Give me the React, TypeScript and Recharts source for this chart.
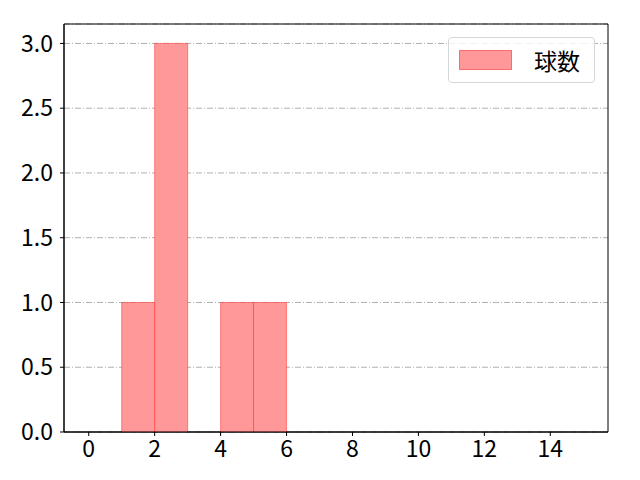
import React from "react";
import {
  ComposedChart,
  Bar,
  XAxis,
  YAxis,
  CartesianGrid,
  ReferenceArea,
} from "recharts";

const binCenters = [0.5, 1.5, 2.5, 3.5, 4.5, 5.5, 6.5, 7.5, 8.5, 9.5, 10.5, 11.5, 12.5, 13.5, 14.5];
const counts = [0, 1, 3, 0, 1, 1, 0, 0, 0, 0, 0, 0, 0, 0, 0];
const xTicks = [0, 2, 4, 6, 8, 10, 12, 14];
const yTicks = [0, 0.5, 1.0, 1.5, 2.0, 2.5, 3.0];
const seriesName = "球数";

const data = binCenters.map((x, i) => ({ x, count: counts[i] }));

const FONT = "'Noto Sans CJK JP', 'Noto Sans', sans-serif";

const LegendBox = () => (
  <div
    style={{
      position: "absolute",
      left: 448,
      top: 37,
      width: 147,
      height: 46,
      border: "1px solid #d6d6d6",
      borderRadius: 4,
      background: "rgba(255,255,255,0.8)",
      boxSizing: "border-box",
      display: "flex",
      alignItems: "center",
      fontFamily: FONT,
      fontSize: 23,
      color: "#000",
    }}
  >
    <div
      style={{
        marginLeft: 10,
        width: 53,
        height: 20,
        background: "#ff9999",
        border: "1px solid rgba(255,60,60,0.5)",
        boxSizing: "border-box",
      }}
    />
    <span style={{ marginLeft: 22, lineHeight: 1 }}>{seriesName}</span>
  </div>
);

export default function App() {
  return (
    <div style={{ position: "absolute", left: 0, top: 0, width: 640, height: 480, background: "#fff" }}>
      <ComposedChart
        width={640}
        height={480}
        data={data}
        margin={{ top: 24, right: 32, bottom: 0, left: 0 }}
        barCategoryGap={0}
        barGap={0}
      >
        <CartesianGrid
          horizontal={true}
          vertical={false}
          stroke="#b0b0b0"
          strokeDasharray="6 2 1 2"
          strokeWidth={1}
        />
        <XAxis
          dataKey="x"
          type="number"
          domain={[-0.75, 15.75]}
          ticks={xTicks}
          interval={0}
          allowDataOverflow
          tickLine={{ stroke: "#000" }}
          axisLine={{ stroke: "#000" }}
          tickSize={4}
          height={48}
          tick={{ fill: "#000", fontSize: 23, fontFamily: FONT, dy: 3 }}
        />
        <YAxis
          type="number"
          domain={[0, 3.15]}
          ticks={yTicks}
          interval={0}
          allowDataOverflow
          width={64}
          tickFormatter={(v: number) => v.toFixed(1)}
          tickLine={{ stroke: "#000" }}
          axisLine={{ stroke: "#000" }}
          tickSize={4}
          tick={{ fill: "#000", fontSize: 23, fontFamily: FONT, dx: -5 }}
        />
        <Bar
          dataKey="count"
          name={seriesName}
          fill="#ff9999"
          stroke="rgba(255,40,40,0.5)"
          strokeWidth={1}
          isAnimationActive={false}
        />
        <ReferenceArea
          x1={-0.75}
          x2={15.75}
          y1={0}
          y2={3.15}
          fill="none"
          fillOpacity={0}
          stroke="#000"
          strokeWidth={1}
          ifOverflow="visible"
        />
      </ComposedChart>
      <LegendBox />
    </div>
  );
}
